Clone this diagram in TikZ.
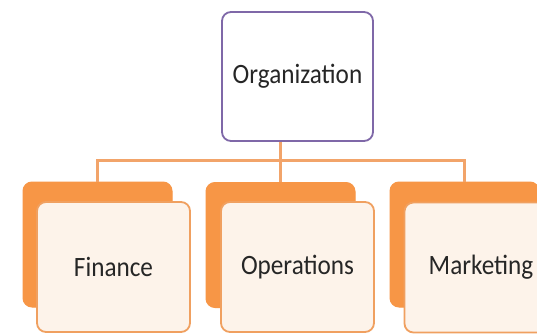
\documentclass[tikz,border=0pt]{standalone}
\usepackage{fontspec}
\setmainfont{Carlito}
\definecolor{orgline}{HTML}{7F68A8}
\definecolor{orangefill}{HTML}{F79646}
\definecolor{orangeline}{HTML}{F0A060}
\definecolor{creamfill}{HTML}{FDF3EA}
\definecolor{linkcol}{HTML}{F2A46A}
\newcommand{\boxtext}[1]{\scalebox{0.9}[1]{#1}}
\begin{document}
\begin{tikzpicture}[x=1pt,y=-1pt,
  orgbox/.style={draw=orgline,line width=1.8pt,fill=white,rounded corners=9pt,
    minimum width=151pt,minimum height=129pt,inner sep=0pt,
    font=\fontsize{28}{32}\selectfont,text=black!85},
  backbox/.style={draw=orangefill,line width=1pt,fill=orangefill,rounded corners=9pt,
    minimum width=149pt,minimum height=125pt,inner sep=0pt},
  frontbox/.style={draw=orangeline,line width=1.8pt,fill=creamfill,rounded corners=9pt,
    minimum width=153pt,minimum height=130pt,inner sep=0pt,
    font=\fontsize{28}{32}\selectfont,text=black!85},
  link/.style={draw=linkcol,line width=2.3pt}]
\useasboundingbox (0,0) rectangle (537,334);
\clip (0,0) rectangle (537,334);
\fill[white] (0,0) rectangle (537,334);
\node[orgbox] (org) at (297.5,76.5) {\boxtext{Organization}};
\node[backbox] (finB) at (97.5,244.5) {};
\node[backbox] (opsB) at (280.5,245) {};
\node[backbox] (mktB) at (464.5,244.5) {};
\node[frontbox] (finF) at (113.5,267) {\boxtext{Finance}};
\node[frontbox] (opsF) at (297.5,267) {\boxtext{Operations}};
\node[frontbox] (mktF) at (481,267.5) {\boxtext{Marketing}};
\coordinate (bar) at (0,160.5);
\draw[link] (finB.north) -- (finB.north |- bar) -- (mktB.north |- bar) -- (mktB.north);
\draw[link] (opsB.north) -- (opsB.north |- org.south);
\end{tikzpicture}
\end{document}
